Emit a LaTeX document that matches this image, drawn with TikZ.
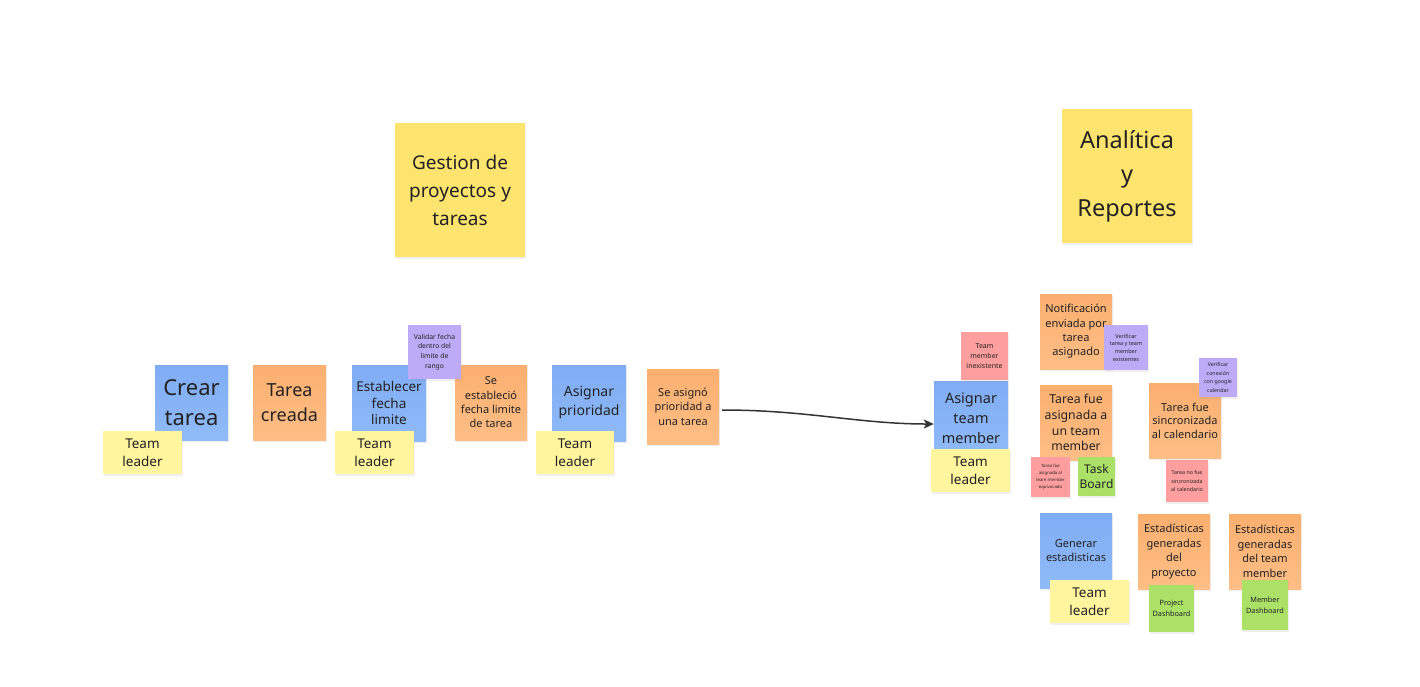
\documentclass[tikz,border=0pt]{standalone}
\usepackage{fontspec}
\setmainfont{Noto Sans}
\usetikzlibrary{shadows,arrows.meta}
\definecolor{bigyellow}{HTML}{FDE46E}
\definecolor{ltyellow}{HTML}{FFF59E}
\definecolor{bluetop}{HTML}{7FACF4}
\definecolor{bluebot}{HTML}{90BBF8}
\definecolor{orangetop}{HTML}{FBAF6F}
\definecolor{orangebot}{HTML}{FEBE86}
\definecolor{purplenote}{HTML}{BDABF7}
\definecolor{pinknote}{HTML}{FF9E9E}
\definecolor{greennote}{HTML}{ACE168}
\definecolor{inkc}{HTML}{222222}
\definecolor{arrowc}{HTML}{333333}
\tikzset{
  note/.style={rectangle, inner sep=0pt, align=center, text=inkc,
    drop shadow={opacity=0.12, shadow xshift=1pt, shadow yshift=-2pt}},
  sz/.style 2 args={minimum width=#1pt, minimum height=#2pt},
  bignote/.style={note, fill=bigyellow},
  tlnote/.style={note, fill=ltyellow},
  bluenote/.style={note, top color=bluetop, bottom color=bluebot},
  orangenote/.style={note, top color=orangetop, bottom color=orangebot},
  purplen/.style={note, fill=purplenote},
  pinkn/.style={note, fill=pinknote},
  greenn/.style={note, fill=greennote},
  fs/.style 2 args={font=\fontsize{#1}{#2}\selectfont},
}
\begin{document}
\begin{tikzpicture}[x=1pt,y=-1pt]
\useasboundingbox[fill=white] (0,0) rectangle (1420,686);

% titles
\node[bignote, sz={130}{134}, fs={19}{28}] (gestion) at (460,190) {Gestion de\\proyectos y\\tareas};
\node[bignote, sz={130}{134}, fs={23.5}{34}] (analitica) at (1127,176) {Analítica\\y\\Reportes};

% left flow
\node[bluenote, sz={73}{75}, fs={22}{30}] (crear) at (191.5,402.5) {Crear\\tarea};
\node[tlnote, sz={79}{43}, fs={13.5}{18}] (tl1) at (142.5,452.5) {Team\\leader};
\node[orangenote, sz={73}{75}, fs={18}{25}] (creada) at (289.5,402.5) {Tarea\\creada};

\node[bluenote, sz={74}{76}, fs={13.5}{16.5}] (establecer) at (389,403) {Establecer\\fecha\\limite};
\node[tlnote, sz={79}{43}, fs={13.5}{18}] (tl2) at (374.5,452.5) {Team\\leader};
\node[orangenote, sz={72}{75}, fs={11}{14.3}] (estab) at (491,402.5) {Se\\estableció\\fecha limite\\de tarea};
\node[purplen, sz={53}{54}, fs={6.8}{9.7}] (validar) at (434.5,352) {Validar fecha\\dentro del\\limite de\\rango};

\node[bluenote, sz={74}{76}, fs={14}{19}] (asignarp) at (589,403) {Asignar\\prioridad};
\node[tlnote, sz={78}{43}, fs={13.5}{18}] (tl3) at (575,452.5) {Team\\leader};
\node[orangenote, sz={72}{75}, fs={11}{14.5}] (seasigno) at (683,406.5) {Se asignó\\prioridad a\\una tarea};

% right area
\node[bluenote, sz={74}{75}, fs={14.5}{20}] (asignartm) at (971,418.5) {Asignar\\team\\member};
\node[pinkn, sz={47}{48}, fs={7}{10}] (inexist) at (984.5,356) {Team\\member\\inexistente};
\node[tlnote, sz={79}{43}, fs={13.5}{18}] (tl4) at (970.5,470.5) {Team\\leader};

\node[orangenote, sz={72}{75}, fs={11}{14.3}] (notif) at (1076,331.5) {Notificación\\enviada por\\tarea\\asignado};
\node[purplen, sz={44}{45}, fs={5.5}{7.7}] (verif1) at (1126,347.5) {Verificar\\tarea y team\\member\\existentes};

\node[orangenote, sz={72}{75}, fs={12.3}{15.7}] (asignada) at (1076,422.5) {Tarea fue\\asignada a\\un team\\member};
\node[pinkn, sz={39}{40}, fs={4.3}{7}] (equiv) at (1050.5,477) {Tarea fue\\asignada al\\team member\\equivocado};
\node[greenn, sz={37}{39}, fs={12}{15}] (task) at (1096.5,476.5) {Task\\Board};

\node[orangenote, sz={72}{75}, fs={11}{13.6}] (sinc) at (1185,420.5) {Tarea fue\\sincronizada\\al calendario};
\node[purplen, sz={38}{39}, fs={5.3}{8.4}] (verif2) at (1218,377.5) {Verificar\\conexión\\con google\\calendar};
\node[pinkn, sz={42}{42}, fs={5.3}{8.2}] (nosinc) at (1187,481) {Tarea no fue\\sincronizada\\al calendario};

\node[bluenote, sz={72}{75}, fs={11}{14.3}] (generar) at (1076,550.5) {Generar\\estadisticas};
\node[tlnote, sz={79}{43}, fs={13.5}{18}] (tl5) at (1089.5,601.5) {Team\\leader};
\node[orangenote, sz={72}{75}, fs={11}{14.5}] (estproy) at (1174,551.5) {Estadísticas\\generadas\\del\\proyecto};
\node[greenn, sz={45}{47}, fs={7.3}{11}] (projdash) at (1171.5,608.5) {Project\\Dashboard};
\node[orangenote, sz={72}{75}, fs={11}{14.5}] (esttm) at (1265,551.5) {Estadísticas\\generadas\\del team\\member};
\node[greenn, sz={46}{50}, fs={7.3}{10.5}] (memdash) at (1265,605) {Member\\Dashboard};

% connector
\draw[arrowc, line width=1.5pt, -{Stealth[length=10pt,width=9pt,inset=2.5pt]}]
  ([xshift=3pt,yshift=-3.5pt]seasigno.east) .. controls +(85,0) and +(-75,0) .. ([yshift=-5.5pt]asignartm.west);
\end{tikzpicture}
\end{document}
